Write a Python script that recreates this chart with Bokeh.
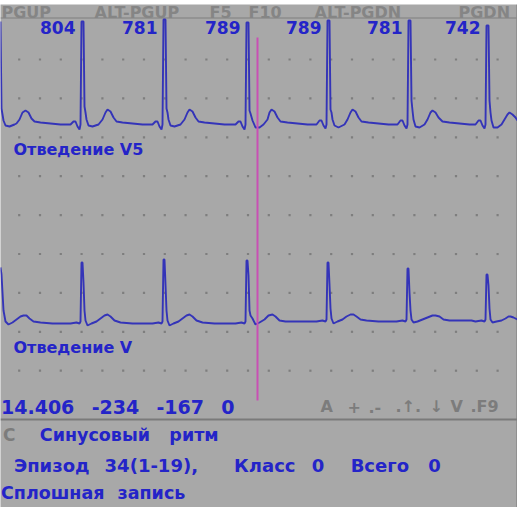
from bokeh.plotting import figure
from bokeh.models import Range1d, ColumnDataSource
from bokeh.core.properties import value
from bokeh.embed import file_html
from bokeh.resources import INLINE

# ---------------- data ----------------
RR_MS = [804, 781, 789, 789, 781, 742]
R_PEAK_X = [9, 90, 172, 255, 336, 417, 495]

# Lead V5 (upper trace), screen units
V5_X = [8, 9, 10, 11, 13, 17, 22, 24, 27, 30, 33, 36, 39, 42, 48, 58, 68,
        78, 81, 83, 85, 87, 88, 89, 91, 92, 93, 94, 96, 100, 106, 110, 113, 115, 118, 121, 124, 130, 140, 150,
        160, 163, 165, 167, 169, 170, 171, 173, 174, 175, 176, 178, 182, 188, 192, 195, 197, 200, 203, 206, 212, 222, 232,
        243, 246, 248, 250, 252, 253, 254, 256, 257, 258, 260, 263, 267, 271, 275, 277, 279, 282, 285, 288, 295, 305, 315,
        324, 327, 329, 331, 333, 334, 335, 337, 338, 339, 340, 342, 346, 352, 355, 358, 360, 363, 366, 369, 376, 386, 396,
        405, 408, 410, 412, 414, 415, 416, 418, 419, 420, 421, 423, 427, 432, 435, 438, 440, 443, 446, 450, 457, 467, 477,
        483, 486, 488, 490, 492, 493, 494, 496, 497, 498, 499, 501, 505, 509, 512, 515, 517, 520, 523, 525]
V5_Y = [29, 116, 122, 128, 133, 134, 132, 131, 127, 120, 118, 120, 126, 129, 130, 131, 132,
        132, 129, 129, 134, 137, 132, 29, 29, 114, 120, 127, 133, 134, 132, 127, 120, 117, 119, 125, 129, 130, 131, 132,
        132, 129, 129, 134, 137, 132, 27, 27, 116, 120, 127, 133, 134, 132, 127, 120, 117, 119, 125, 129, 130, 131, 132,
        132, 129, 129, 134, 137, 132, 30, 30, 118, 121, 128, 135, 135, 132, 127, 120, 117, 119, 125, 129, 130, 131, 132,
        132, 128, 128, 133, 136, 132, 28, 28, 117, 120, 127, 133, 135, 132, 127, 120, 117, 119, 125, 129, 130, 131, 132,
        132, 128, 128, 133, 136, 132, 28, 28, 108, 118, 127, 134, 135, 132, 127, 120, 118, 120, 125, 129, 130, 131, 132,
        132, 128, 128, 133, 136, 132, 33, 33, 108, 120, 128, 135, 135, 132, 127, 122, 120, 122, 125, 128]

# Lead V (lower trace), screen units
LEAD_V_X = [8, 9, 10, 11, 13, 16, 20, 24, 28, 31, 34, 37, 41, 48, 60, 72,
            78, 84, 87, 88, 89, 90, 91, 92, 93, 95, 99, 104, 108, 112, 115, 118, 122, 128, 140, 150,
            160, 166, 169, 170, 171, 172, 173, 174, 175, 177, 181, 186, 190, 194, 197, 200, 204, 210, 222, 232,
            243, 249, 252, 253, 254, 255, 256, 257, 258, 260, 263, 267, 272, 276, 280, 283, 287, 293, 305, 315,
            324, 330, 333, 334, 335, 336, 337, 338, 339, 341, 345, 350, 354, 358, 361, 364, 368, 374, 386, 396,
            404, 410, 413, 414, 415, 416, 417, 418, 419, 421, 425, 430, 435, 440, 443, 447, 451, 457, 469, 479,
            483, 489, 492, 493, 494, 495, 496, 497, 498, 500, 504, 509, 513, 516, 518, 521, 525]
LEAD_V_Y = [275, 282, 300, 318, 329, 332, 330, 327, 324, 323, 323, 326, 329, 330, 331, 331,
            331, 330, 331, 329, 270, 270, 290, 318, 328, 333, 331, 329, 326, 323, 322, 324, 328, 330, 331, 331,
            331, 330, 331, 329, 267, 267, 292, 318, 328, 333, 331, 329, 326, 323, 322, 324, 328, 330, 331, 331,
            331, 330, 331, 329, 268, 268, 283, 318, 323, 326, 332, 330, 327, 323, 322, 324, 328, 329, 329, 329,
            329, 328, 329, 327, 270, 270, 292, 316, 326, 331, 329, 327, 324, 322, 322, 324, 327, 328, 329, 329,
            329, 328, 329, 327, 276, 276, 300, 318, 327, 330, 329, 327, 325, 323, 323, 324, 327, 328, 328, 328,
            329, 328, 329, 327, 282, 282, 293, 316, 327, 330, 329, 328, 326, 324, 324, 325, 327]

HEADER_KEYS = ["PGUP", "ALT-PGUP", "F5", "F10", "ALT-PGDN", "PGDN"]
LEAD_NAMES = ["Отведение V5", "Отведение V"]
STATUS_VALUES = ["14.406", "-234", "-167", "0"]
MARK_KEYS = ["A", "+", ".-", ".↑.", "↓", "V", ".F9"]
RHYTHM_CODE = "C"
RHYTHM = ["Синусовый", "ритм"]
EPISODE = ["Эпизод", "34(1-19),", "Класс", "0", "Всего", "0"]
RECORD = ["Сплошная", "запись"]

# ---------------- layout / style ----------------
BG = "#a8a8a8"
DOT = "#7e7e7e"
TRACE = "#3434b8"
TEXT_BLUE = "#2424c8"
GRAY_TEXT = "#7c7c7c"
CURSOR = "#c850b4"
FONT = value("DejaVu Sans")
CW = 12.95
C0 = 8.5

def col(c):
    return C0 + CW * c

p = figure(width=517, height=507, x_range=Range1d(8, 525), y_range=Range1d(515, 12),
           output_backend="svg", toolbar_location=None,
           x_axis_location=None, y_axis_location=None,
           min_border_left=0, min_border_right=0, min_border_bottom=0, min_border_top=4,
           background_fill_color=BG, border_fill_color="white", outline_line_color=None)
p.grid.visible = False

# dotted grid
gx, gy = [], []
for j in range(9):
    for k in range(24):
        gx.append(26.7 + 20.8 * k)
        gy.append(67 + 38.9 * j)
p.scatter(gx, gy, marker="square", size=2.2, color=DOT, line_color=None)

# header
p.segment(x0=[8], y0=[25.5], x1=[525], y1=[25.5], line_color="#8c8c8c", line_width=1.5)
hdr_x = [9, 102, 217, 256, 322, 466]
p.text(x=hdr_x, y=[19.5] * len(HEADER_KEYS), text=HEADER_KEYS,
       text_font=FONT, text_font_style="bold", text_font_size="16px", text_color="#858585",
       text_baseline="middle", text_align="left")

# right border & status separator
p.segment(x0=[524.5], y0=[12], x1=[524.5], y1=[515], line_color="#888888", line_width=1.5)
p.segment(x0=[8], y0=[427], x1=[525], y1=[427], line_color="#7a7a7a", line_width=2)

# traces
p.line(V5_X, V5_Y, line_width=1.9, color=TRACE)
p.line(LEAD_V_X, LEAD_V_Y, line_width=1.9, color=TRACE)

# cursor
p.segment(x0=[265], y0=[45], x1=[265], y1=[408], line_color=CURSOR, line_width=2)

# RR interval labels
src = ColumnDataSource(dict(x=[r - 7 for r in R_PEAK_X[1:]], y=[34.5] * len(RR_MS),
                            t=[str(v) for v in RR_MS]))
p.text(x="x", y="y", text="t", source=src, text_font=FONT, text_font_style="bold",
       text_font_size="17px", text_color=TEXT_BLUE, text_align="right", text_baseline="middle")

# lead names
p.text(x=[21, 21], y=[157, 355], text=LEAD_NAMES, text_font=FONT, text_font_style="bold",
       text_font_size="16px", text_color=TEXT_BLUE, text_baseline="middle")

# status line
p.text(x=[col(c) for c in [0, 7, 12, 17]], y=[414] * 4, text=STATUS_VALUES,
       text_font=FONT, text_font_style="bold", text_font_size="19px",
       text_color=TEXT_BLUE, text_baseline="middle")
p.text(x=[328, 355, 376, 403, 437, 458, 478], y=[414] * len(MARK_KEYS), text=MARK_KEYS,
       text_font=FONT, text_font_style="bold", text_font_size="16px",
       text_color=GRAY_TEXT, text_baseline="middle")

# bottom info
p.text(x=[col(0) + 2], y=[442], text=[RHYTHM_CODE], text_font=FONT, text_font_style="bold",
       text_font_size="17px", text_color=GRAY_TEXT, text_baseline="middle")
p.text(x=[col(3), col(13)], y=[442, 442], text=RHYTHM, text_font=FONT, text_font_style="bold",
       text_font_size="17.5px", text_color=TEXT_BLUE, text_baseline="middle")
p.text(x=[col(c) for c in [1, 8, 18, 24, 27, 33]], y=[473] * len(EPISODE), text=EPISODE,
       text_font=FONT, text_font_style="bold", text_font_size="18px",
       text_color=TEXT_BLUE, text_baseline="middle")
p.text(x=[col(0), col(9)], y=[500, 500], text=RECORD, text_font=FONT, text_font_style="bold",
       text_font_size="17.5px", text_color=TEXT_BLUE, text_baseline="middle")

open("out.html", "w").write(file_html(p, INLINE))
